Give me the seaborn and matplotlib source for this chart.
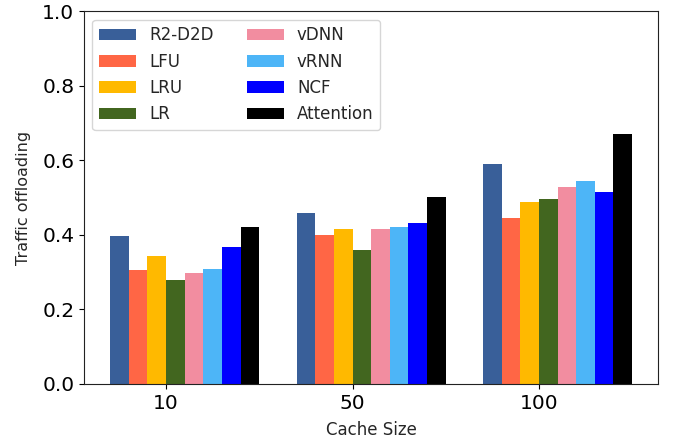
import matplotlib
matplotlib.use('Agg')
import matplotlib.pyplot as plt
import pandas as pd
import seaborn as sns

### data ###
cache_sizes = ['10', '50', '100']
methods = ['R2-D2D', 'LFU', 'LRU', 'LR', 'vDNN', 'vRNN', 'NCF', 'Attention']
r2d2d = [0.397, 0.458, 0.590]
lfu = [0.306, 0.399, 0.445]
lru = [0.343, 0.416, 0.488]
lr = [0.279, 0.359, 0.496]
vdnn = [0.298, 0.416, 0.528]
vrnn = [0.308, 0.421, 0.544]
ncf = [0.367, 0.432, 0.515]
attention = [0.421, 0.501, 0.670]
colors = ['#395F99', '#FF6645', '#FFB900', '#42661F',
          '#F28DA0', '#4DB5F7', '#0000FF', '#000000']
###############################

values = [r2d2d, lfu, lru, lr, vdnn, vrnn, ncf, attention]
rows = []
for m, vals in zip(methods, values):
    for c, v in zip(cache_sizes, vals):
        rows.append({'cache': c, 'method': m, 'offload': v})
df = pd.DataFrame(rows)

sns.set_style('ticks')
fig, ax = plt.subplots(figsize=(6.73, 4.47), dpi=100)
fig.subplots_adjust(left=0.125, right=0.978, top=0.975, bottom=0.141)

sns.barplot(data=df, x='cache', y='offload', hue='method', hue_order=methods,
            order=cache_sizes, palette=colors, width=0.8, saturation=1,
            gap=0, linewidth=0, ax=ax)

# ticks sit at the left edge of the 4th bar of each group
ax.set_xticks([i - 0.1 for i in range(len(cache_sizes))])
ax.set_xticklabels(cache_sizes)
ax.set_xlim(-0.54, 2.54)
ax.set_ylim(0, 1.0)
ax.set_yticks([0, 0.2, 0.4, 0.6, 0.8, 1.0])
ax.tick_params(axis='both', labelsize=14.5, colors='black')
for s in ax.spines.values():
    s.set_color('#222222')
ax.set_xlabel('Cache Size', fontsize=12, labelpad=6)
ax.set_ylabel('Traffic offloading', fontsize=11.5, labelpad=8)
ax.legend(loc='upper left', ncol=2, fontsize=12, frameon=True,
          title=None, columnspacing=2.0, handlelength=2.2)

plt.savefig('out.png', dpi=100)
